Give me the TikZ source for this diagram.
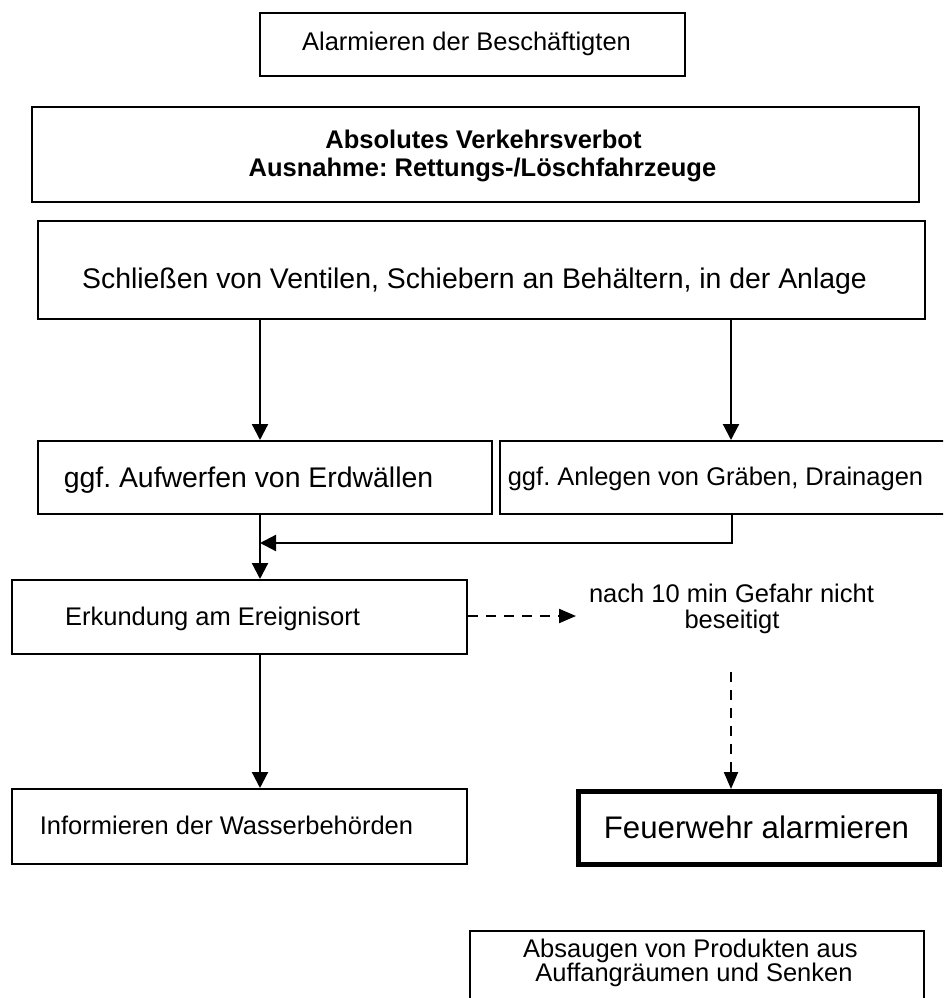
\documentclass[tikz,border=0pt]{standalone}
\usepackage{fontspec}
\setmainfont{Liberation Sans}
\usetikzlibrary{arrows.meta}
\frenchspacing
\begin{document}
\begin{tikzpicture}[x=1pt,y=-1pt,
  box/.style={draw, line width=2pt, inner sep=0pt, rectangle},
  thickbox/.style={draw, line width=5pt, inner sep=0pt, rectangle},
  lbl/.style={anchor=base, inner sep=0pt, font=\fontsize{25.5}{28}\selectfont},
  blbl/.style={anchor=base, inner sep=0pt, font=\bfseries\fontsize{25.5}{28}\selectfont},
  arr/.style={line width=2.2pt, -{Triangle[length=16pt,width=16pt]}},
  darr/.style={line width=2.2pt, dash pattern=on 10pt off 8pt, -{Triangle[length=17pt,width=14pt]}}]
\useasboundingbox (0,0) rectangle (943,998);
\begin{scope}
\clip (0,0) rectangle (943,998);
% boxes
\node[box, minimum width=425pt, minimum height=63pt] (b1) at (472.5,44.5) {};
\node[box, minimum width=887pt, minimum height=95pt] (b2) at (475.5,154.5) {};
\node[box, minimum width=887pt, minimum height=98pt] (b3) at (481.5,270) {};
\node[box, minimum width=454pt, minimum height=73pt] (b4) at (265,477.5) {};
\node[box, minimum width=447pt, minimum height=73pt] (b5) at (723.5,477.5) {};
\node[box, minimum width=455pt, minimum height=74pt] (b6) at (239.5,617) {};
\node[box, minimum width=455pt, minimum height=75pt] (b7) at (239.5,826.5) {};
\node[thickbox, minimum width=361pt, minimum height=73pt] (b8) at (759,828) {};
\node[box, minimum width=454pt, minimum height=79pt] (b9) at (697,970.5) {};
% texts
\node[lbl] (t1) at (466.5,51) {Alarmieren der Beschäftigten};
\node[blbl] (t2a) at (483.5,148) {Absolutes Verkehrsverbot};
\node[blbl] (t2b) at (482.5,176) {Ausnahme: Rettungs-/Löschfahrzeuge};
\node[lbl, font=\fontsize{28.4}{32}\selectfont] (t3) at (474.5,288) {Schließen von Ventilen, Schiebern an Behältern, in der Anlage};
\node[lbl, font=\fontsize{28.4}{32}\selectfont] (t4) at (248.5,487) {ggf. Aufwerfen von Erdwällen};
\node[lbl] (t5) at (715.5,485) {ggf. Anlegen von Gräben, Drainagen};
\node[lbl] (t6) at (212.5,625) {Erkundung am Ereignisort};
\node[lbl] (t7a) at (731.5,602) {nach 10 min Gefahr nicht};
\node[lbl] (t7b) at (732,628) {beseitigt};
\node[lbl] (t8) at (226.5,834) {Informieren der Wasserbehörden};
\node[lbl, font=\fontsize{31.2}{35}\selectfont] (t9) at (756.5,838) {Feuerwehr alarmieren};
\node[lbl] (t10a) at (690.5,957) {Absaugen von Produkten aus};
\node[lbl] (t10b) at (694,981) {Auffangräumen und Senken};
% helper coordinates
\coordinate (xl) at (260,0);
\coordinate (xr) at (731,0);
\coordinate (xm) at (732,0);
\coordinate (mj) at (260,543);
\coordinate (dend) at (576,616);
\coordinate (dstart) at (731,672);
% connectors
\draw[arr] (b3.south -| xl) -- (b4.north -| xl);
\draw[arr] (b3.south -| xr) -- (b5.north -| xr);
\draw[arr] (b4.south -| xl) -- (b6.north -| xl);
\draw[arr] (b5.south -| xm) |- (mj);
\draw[darr] (b6.east |- dend) -- (dend);
\draw[darr] (dstart) -- (b8.north -| dstart);
\draw[arr] (b6.south -| xl) -- (b7.north -| xl);
\end{scope}
\end{tikzpicture}
\end{document}
